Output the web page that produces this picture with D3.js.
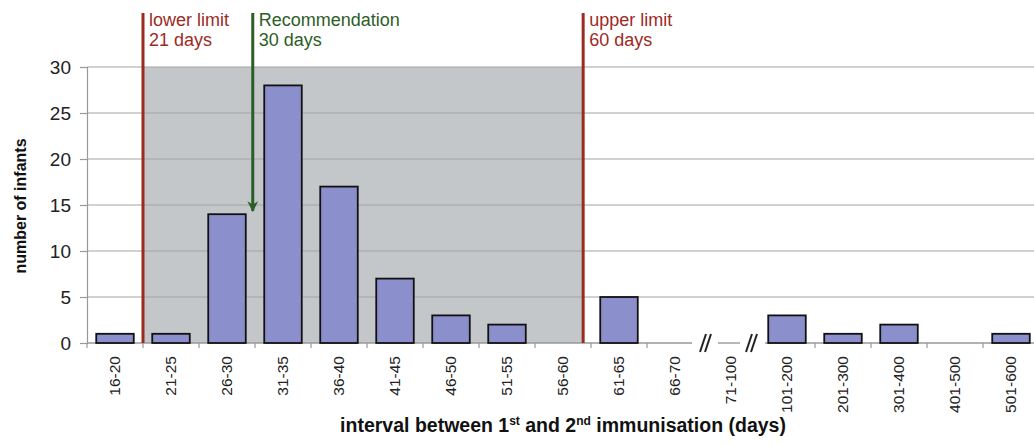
<!DOCTYPE html>
<html>
<head>
<meta charset="utf-8">
<script src="https://cdn.jsdelivr.net/npm/d3@7"></script>
<style>
  html, body { margin: 0; padding: 0; background: #fff; }
  svg { display: block; font-family: "Liberation Sans", Arial, Helvetica, sans-serif; }
</style>
</head>
<body>
<svg id="chart" width="1034" height="446"></svg>
<script>
// ---- data ----
const categories = ["16-20","21-25","26-30","31-35","36-40","41-45","46-50","51-55","56-60","61-65","66-70","71-100","101-200","201-300","301-400","401-500","501-600"];
const infants    = [1, 1, 14, 28, 17, 7, 3, 2, 0, 5, 0, null, 3, 1, 2, 0, 1];
const yTicks     = [0, 5, 10, 15, 20, 25, 30];
// reference lines: category after which the line sits, and fractional position within that slot
const markers = [
  { label1: "lower limit",    label2: "21 days", cat: "16-20", frac: 1.0,  color: "#9c2b1f", arrow: false },
  { label1: "Recommendation", label2: "30 days", cat: "26-30", frac: 0.96, color: "#2c5e27", arrow: true  },
  { label1: "upper limit",    label2: "60 days", cat: "56-60", frac: 0.86, color: "#9c2b1f", arrow: false }
];
const breakCategory = "71-100";

// ---- layout ----
const svg = d3.select("#chart");
const plotLeft = 87, slotW = 56, plotTop = 67, plotBottom = 343;
const x = d3.scaleBand().domain(categories)
  .range([plotLeft, plotLeft + slotW * categories.length])
  .paddingInner(0.33).paddingOuter(0.165);
const y = d3.scaleLinear().domain([0, 30]).range([plotBottom, plotTop]);
const st = x.step();
const slotStart = c => x(c) - x.paddingInner() * st / 2;
const markerX = m => slotStart(m.cat) + m.frac * st;

const lowX = markerX(markers[0]), upX = markerX(markers[2]);

// shaded recommended window
svg.append("rect")
  .attr("x", lowX).attr("y", y(30))
  .attr("width", upX - lowX).attr("height", y(0) - y(30))
  .attr("fill", "#c4c7c9");

// gridlines
svg.append("g").selectAll("line").data(yTicks.filter(d => d > 0)).join("line")
  .attr("x1", plotLeft).attr("x2", 1034)
  .attr("y1", d => y(d)).attr("y2", d => y(d))
  .attr("stroke", "#a3a3a3").attr("stroke-width", 1.2);

// y axis
const yAxis = svg.append("g").attr("transform", `translate(${plotLeft},0)`)
  .call(d3.axisLeft(y).tickValues(yTicks).tickSize(7).tickPadding(9));
yAxis.select(".domain").attr("stroke", "#999").attr("stroke-width", 1.2);
yAxis.selectAll(".tick line").attr("stroke", "#999").attr("stroke-width", 1.2);
yAxis.selectAll(".tick text").attr("font-size", 19).attr("fill", "#222")
  .attr("font-family", "Liberation Sans, Arial, sans-serif");

// x axis with break
const bStart = slotStart(breakCategory);
const axisSegments = [
  [plotLeft, bStart - 11],
  [bStart + 15, bStart + 37],
  [bStart + 62, 1034]
];
svg.append("g").selectAll("line").data(axisSegments).join("line")
  .attr("x1", d => d[0]).attr("x2", d => d[1])
  .attr("y1", y(0)).attr("y2", y(0))
  .attr("stroke", "#999").attr("stroke-width", 1.4);
// tick marks at slot boundaries
const boundaries = d3.range(categories.length + 1).map(i => plotLeft + i * st)
  .filter(b => b < bStart - 11 || b > bStart + 62);
svg.append("g").selectAll("line").data(boundaries).join("line")
  .attr("x1", d => d).attr("x2", d => d)
  .attr("y1", y(0)).attr("y2", y(0) + 5)
  .attr("stroke", "#999").attr("stroke-width", 1.2);
// break marks "//"
const breakMarks = [bStart - 3, bStart + 2, bStart + 43, bStart + 48];
svg.append("g").selectAll("line").data(breakMarks).join("line")
  .attr("x1", d => d).attr("x2", d => d + 6)
  .attr("y1", y(0) + 9).attr("y2", y(0) - 9)
  .attr("stroke", "#222").attr("stroke-width", 2);

// bars
svg.append("g").selectAll("rect")
  .data(categories.map((c, i) => ({ c, v: infants[i] })).filter(d => d.v))
  .join("rect")
  .attr("x", d => x(d.c)).attr("width", x.bandwidth())
  .attr("y", d => y(d.v)).attr("height", d => y(0) - y(d.v))
  .attr("fill", "#8b8fcb").attr("stroke", "#111").attr("stroke-width", 1.8);

// x tick labels
svg.append("g").selectAll("text").data(categories).join("text")
  .attr("transform", d => `translate(${x(d) + x.bandwidth() / 2},356) rotate(-90)`)
  .attr("text-anchor", "end").attr("dy", "0.35em")
  .attr("font-size", 15.5).attr("fill", "#222")
  .text(d => d);

// marker lines and labels
svg.append("defs").append("marker")
  .attr("id", "arrowhead").attr("viewBox", "0 0 10 10")
  .attr("refX", 9).attr("refY", 5)
  .attr("markerWidth", 3.6).attr("markerHeight", 5.5)
  .attr("markerUnits", "strokeWidth").attr("orient", "auto")
  .append("path").attr("d", "M0,0 L10,5 L0,10 L3,5 Z").attr("fill", markers[1].color);

markers.forEach(m => {
  const mx = markerX(m);
  const line = svg.append("line")
    .attr("x1", mx).attr("x2", mx)
    .attr("y1", 13).attr("y2", m.arrow ? 211 : y(0))
    .attr("stroke", m.color).attr("stroke-width", 3);
  if (m.arrow) line.attr("marker-end", "url(#arrowhead)");
  const t = svg.append("text").attr("fill", m.color).attr("font-size", 18);
  t.append("tspan").attr("x", mx + 6).attr("y", 26).text(m.label1);
  t.append("tspan").attr("x", mx + 6).attr("y", 46).text(m.label2);
});

// axis titles
svg.append("text")
  .attr("transform", `translate(26,${(plotTop + plotBottom) / 2 + 1}) rotate(-90)`)
  .attr("text-anchor", "middle").attr("font-weight", "bold")
  .attr("font-size", 16).attr("fill", "#111")
  .text("number of infants");

const xt = svg.append("text")
  .attr("x", 563).attr("y", 432)
  .attr("text-anchor", "middle").attr("font-weight", "bold")
  .attr("font-size", 19.5).attr("fill", "#111");
xt.append("tspan").text("interval between 1");
xt.append("tspan").attr("font-size", 12).attr("dy", -7).text("st");
xt.append("tspan").attr("dy", 7).text(" and 2");
xt.append("tspan").attr("font-size", 12).attr("dy", -7).text("nd");
xt.append("tspan").attr("dy", 7).text(" immunisation (days)");
</script>
</body>
</html>
